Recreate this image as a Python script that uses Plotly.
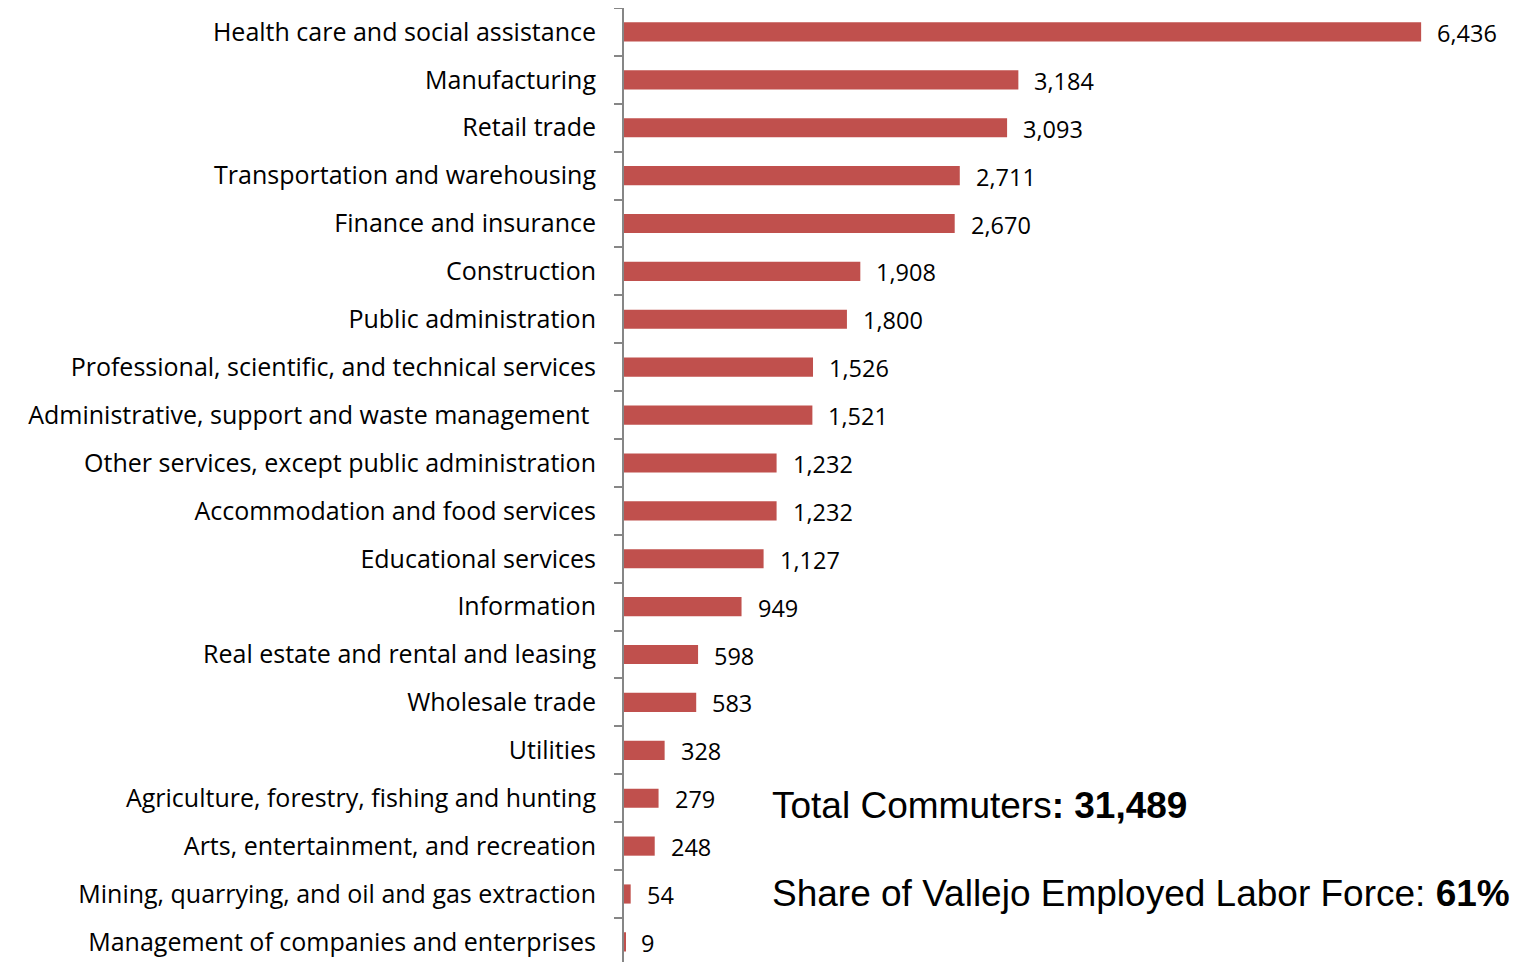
import plotly.graph_objects as go

categories = [
    "Health care and social assistance",
    "Manufacturing",
    "Retail trade",
    "Transportation and warehousing",
    "Finance and insurance",
    "Construction",
    "Public administration",
    "Professional, scientific, and technical services",
    "Administrative, support and waste management\u00a0",
    "Other services, except public administration",
    "Accommodation and food services",
    "Educational services",
    "Information",
    "Real estate and rental and leasing",
    "Wholesale trade",
    "Utilities",
    "Agriculture, forestry, fishing and hunting",
    "Arts, entertainment, and recreation",
    "Mining, quarrying, and oil and gas extraction",
    "Management of companies and enterprises",
]
values = [6436, 3184, 3093, 2711, 2670, 1908, 1800, 1526, 1521, 1232,
          1232, 1127, 949, 598, 583, 328, 279, 248, 54, 9]

total_label = "Total Commuters<b>: 31,489</b>"
share_label = "Share of Vallejo Employed Labor Force: <b>61%</b>"

OFF = 8  # page body margin
W, H = 1532 - 2 * OFF, 962 - OFF
ml, mr, mt, mb = 624 - OFF, 33, 0, 0
pw, ph = W - ml - mr, H - mt - mb

label_font = "Open Sans, Lato, sans-serif"

fig = go.Figure()
fig.add_trace(go.Bar(
    x=values, y=categories, orientation="h",
    marker=dict(color="#C0504D", line=dict(width=0)),
    width=0.4, hoverinfo="skip",
))

for c, v in zip(categories, values):
    fig.add_annotation(x=v, y=c, text=f"{v:,}", showarrow=False,
                       xanchor="left", yanchor="middle", xshift=14, yshift=-1,
                       font=dict(family=label_font, size=23.5, color="#000"))

def py(y):
    return 1 - (y - OFF - mt) / ph

fig.add_annotation(xref="paper", yref="paper", x=(770 - OFF - ml) / pw, y=py(805),
                   text=total_label, showarrow=False, xanchor="left", yanchor="middle",
                   font=dict(family="Liberation Sans Narrow, Liberation Sans, Arial", size=37, color="#000"))
fig.add_annotation(xref="paper", yref="paper", x=(770 - OFF - ml) / pw, y=py(893),
                   text=share_label, showarrow=False, xanchor="left", yanchor="middle",
                   font=dict(family="Liberation Sans Narrow, Liberation Sans, Arial", size=37, color="#000"))

fig.update_layout(
    width=W, height=H,
    margin=dict(l=ml, r=mr, t=mt, b=mb),
    plot_bgcolor="white", paper_bgcolor="white",
    showlegend=False,
    xaxis=dict(range=[0, 7000], visible=False, fixedrange=True),
    yaxis=dict(
        categoryorder="array", categoryarray=categories,
        range=[19.42, -0.5],
        showline=True, linecolor="#868686", linewidth=2,
        ticks="outside", tickson="boundaries", ticklen=8, tickcolor="#868686", tickwidth=2,
        ticklabelstandoff=21,
        tickfont=dict(family=label_font, size=25, color="#000"),
        showgrid=False, zeroline=False,
    ),
)

fig.write_html("out.html")
